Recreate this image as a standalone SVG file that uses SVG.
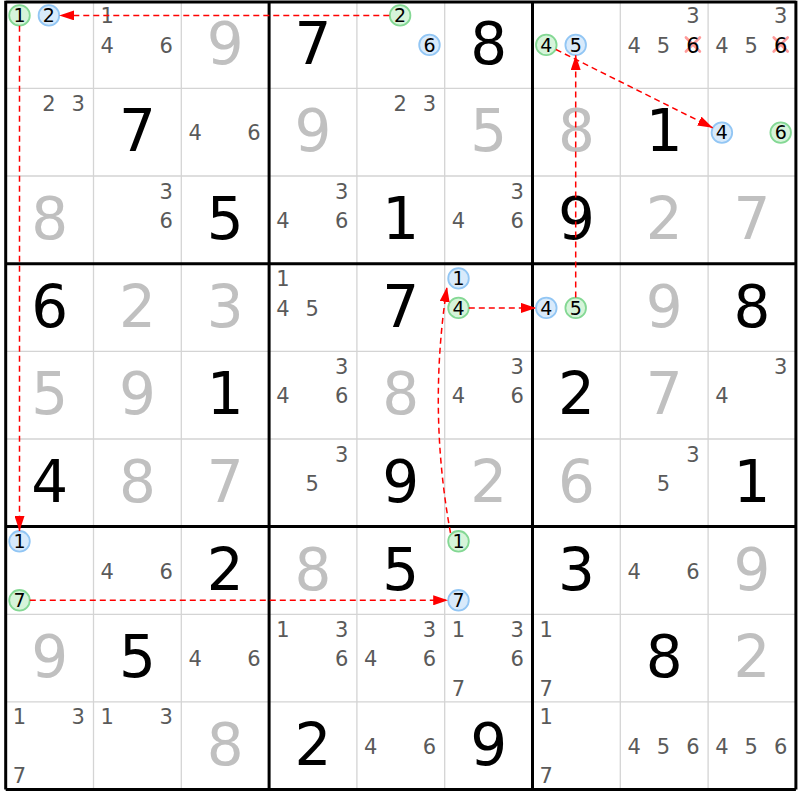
<svg xmlns="http://www.w3.org/2000/svg" width="800" height="800" viewBox="0 0 800 800">
<style>
text{font-family:"DejaVu Sans","Liberation Sans",sans-serif;text-anchor:middle}
.g{font-size:58px;fill:#000}
.s{font-size:58px;fill:#c0c0c0}
.c{font-size:21px;fill:#5a5a5a}
.k{font-size:21px;fill:#000}
.cd{font-size:19px;fill:#000}
.gc{fill:#d6f4da;stroke:#84d894;stroke-width:1.8}
.bc{fill:#d8eafb;stroke:#92c6f4;stroke-width:1.8}
.thin{stroke:#d4d4d4;stroke-width:1.3}
.thick{stroke:#000;stroke-width:3}
.x{stroke:#ff9a9a;stroke-width:2.6;stroke-linecap:round}
.ar{fill:none;stroke:#f00;stroke-width:1.5;stroke-dasharray:6,4;marker-end:url(#ah)}
</style>
<defs>
<marker id="ah" markerUnits="userSpaceOnUse" markerWidth="15" markerHeight="10" refX="15" refY="5" orient="auto">
<path d="M0,0 L15,5 L0,10 z" fill="#f00"/>
</marker>
</defs>
<rect x="0" y="0" width="800" height="800" fill="#fff"/>
<g id="grid">
<path class="thin" d="M93.5,0.7V789.6M181.3,0.7V789.6M356.9,0.7V789.6M444.7,0.7V789.6M620.3,0.7V789.6M708.1,0.7V789.6M5.7,88.4H795.9M5.7,176H795.9M5.7,351.3H795.9M5.7,439H795.9M5.7,614.3H795.9M5.7,701.9H795.9"/>
<path class="thick" d="M5.7,0.7V789.6M269.1,0.7V789.6M532.5,0.7V789.6M795.9,0.7V789.6M5.7,2H795.9M5.7,263.7H795.9M5.7,526.6H795.9M5.7,789.6H795.9"/>
</g>
<g id="r0c0"><circle class="gc" cx="19.5" cy="15.4" r="10.3"/><text class="cd" x="19.5" y="22.2">1</text><circle class="bc" cx="48.9" cy="15.4" r="10.3"/><text class="cd" x="48.9" y="22.2">2</text></g>
<g id="r0c1"><text class="c" x="107.3" y="23.2">1</text><text class="c" x="107.3" y="52.7">4</text><text class="c" x="166.1" y="52.7">6</text></g>
<g id="r0c2"><text class="s" x="225.2" y="63.7">9</text></g>
<g id="r0c3"><text class="g" x="313" y="63.7">7</text></g>
<g id="r0c4"><circle class="gc" cx="400.1" cy="15.4" r="10.3"/><text class="cd" x="400.1" y="22.2">2</text><circle class="bc" cx="429.5" cy="44.9" r="10.3"/><text class="cd" x="429.5" y="51.7">6</text></g>
<g id="r0c5"><text class="g" x="488.6" y="63.7">8</text></g>
<g id="r0c6"><circle class="gc" cx="546.3" cy="44.9" r="10.3"/><text class="cd" x="546.3" y="51.7">4</text><circle class="bc" cx="575.7" cy="44.9" r="10.3"/><text class="cd" x="575.7" y="51.7">5</text></g>
<g id="r0c7"><text class="c" x="692.9" y="23.2">3</text><text class="c" x="634.1" y="52.7">4</text><text class="c" x="663.5" y="52.7">5</text><path class="x" d="M685.9,37.5L699.9,51.5M699.9,37.5L685.9,51.5"/><text class="k" x="692.9" y="52.7">6</text></g>
<g id="r0c8"><text class="c" x="780.7" y="23.2">3</text><text class="c" x="721.9" y="52.7">4</text><text class="c" x="751.3" y="52.7">5</text><path class="x" d="M773.7,37.5L787.7,51.5M787.7,37.5L773.7,51.5"/><text class="k" x="780.7" y="52.7">6</text></g>
<g id="r1c0"><text class="c" x="48.9" y="110.9">2</text><text class="c" x="78.3" y="110.9">3</text></g>
<g id="r1c1"><text class="g" x="137.4" y="151.4">7</text></g>
<g id="r1c2"><text class="c" x="195.1" y="140.4">4</text><text class="c" x="253.9" y="140.4">6</text></g>
<g id="r1c3"><text class="s" x="313" y="151.4">9</text></g>
<g id="r1c4"><text class="c" x="400.1" y="110.9">2</text><text class="c" x="429.5" y="110.9">3</text></g>
<g id="r1c5"><text class="s" x="488.6" y="151.4">5</text></g>
<g id="r1c6"><text class="s" x="576.4" y="151.4">8</text></g>
<g id="r1c7"><text class="g" x="664.2" y="151.4">1</text></g>
<g id="r1c8"><circle class="bc" cx="721.9" cy="132.6" r="10.3"/><text class="cd" x="721.9" y="139.4">4</text><circle class="gc" cx="780.7" cy="132.6" r="10.3"/><text class="cd" x="780.7" y="139.4">6</text></g>
<g id="r2c0"><text class="s" x="49.6" y="239">8</text></g>
<g id="r2c1"><text class="c" x="166.1" y="198.5">3</text><text class="c" x="166.1" y="228">6</text></g>
<g id="r2c2"><text class="g" x="225.2" y="239">5</text></g>
<g id="r2c3"><text class="c" x="341.7" y="198.5">3</text><text class="c" x="282.9" y="228">4</text><text class="c" x="341.7" y="228">6</text></g>
<g id="r2c4"><text class="g" x="400.8" y="239">1</text></g>
<g id="r2c5"><text class="c" x="517.3" y="198.5">3</text><text class="c" x="458.5" y="228">4</text><text class="c" x="517.3" y="228">6</text></g>
<g id="r2c6"><text class="g" x="576.4" y="239">9</text></g>
<g id="r2c7"><text class="s" x="664.2" y="239">2</text></g>
<g id="r2c8"><text class="s" x="752" y="239">7</text></g>
<g id="r3c0"><text class="g" x="49.6" y="326.7">6</text></g>
<g id="r3c1"><text class="s" x="137.4" y="326.7">2</text></g>
<g id="r3c2"><text class="s" x="225.2" y="326.7">3</text></g>
<g id="r3c3"><text class="c" x="282.9" y="286.2">1</text><text class="c" x="282.9" y="315.7">4</text><text class="c" x="312.3" y="315.7">5</text></g>
<g id="r3c4"><text class="g" x="400.8" y="326.7">7</text></g>
<g id="r3c5"><circle class="bc" cx="458.5" cy="278.4" r="10.3"/><text class="cd" x="458.5" y="285.2">1</text><circle class="gc" cx="458.5" cy="307.9" r="10.3"/><text class="cd" x="458.5" y="314.7">4</text></g>
<g id="r3c6"><circle class="bc" cx="546.3" cy="307.9" r="10.3"/><text class="cd" x="546.3" y="314.7">4</text><circle class="gc" cx="575.7" cy="307.9" r="10.3"/><text class="cd" x="575.7" y="314.7">5</text></g>
<g id="r3c7"><text class="s" x="664.2" y="326.7">9</text></g>
<g id="r3c8"><text class="g" x="752" y="326.7">8</text></g>
<g id="r4c0"><text class="s" x="49.6" y="414.3">5</text></g>
<g id="r4c1"><text class="s" x="137.4" y="414.3">9</text></g>
<g id="r4c2"><text class="g" x="225.2" y="414.3">1</text></g>
<g id="r4c3"><text class="c" x="341.7" y="373.8">3</text><text class="c" x="282.9" y="403.3">4</text><text class="c" x="341.7" y="403.3">6</text></g>
<g id="r4c4"><text class="s" x="400.8" y="414.3">8</text></g>
<g id="r4c5"><text class="c" x="517.3" y="373.8">3</text><text class="c" x="458.5" y="403.3">4</text><text class="c" x="517.3" y="403.3">6</text></g>
<g id="r4c6"><text class="g" x="576.4" y="414.3">2</text></g>
<g id="r4c7"><text class="s" x="664.2" y="414.3">7</text></g>
<g id="r4c8"><text class="c" x="780.7" y="373.8">3</text><text class="c" x="721.9" y="403.3">4</text></g>
<g id="r5c0"><text class="g" x="49.6" y="502">4</text></g>
<g id="r5c1"><text class="s" x="137.4" y="502">8</text></g>
<g id="r5c2"><text class="s" x="225.2" y="502">7</text></g>
<g id="r5c3"><text class="c" x="341.7" y="461.5">3</text><text class="c" x="312.3" y="491">5</text></g>
<g id="r5c4"><text class="g" x="400.8" y="502">9</text></g>
<g id="r5c5"><text class="s" x="488.6" y="502">2</text></g>
<g id="r5c6"><text class="s" x="576.4" y="502">6</text></g>
<g id="r5c7"><text class="c" x="692.9" y="461.5">3</text><text class="c" x="663.5" y="491">5</text></g>
<g id="r5c8"><text class="g" x="752" y="502">1</text></g>
<g id="r6c0"><circle class="bc" cx="19.5" cy="541.3" r="10.3"/><text class="cd" x="19.5" y="548.1">1</text><circle class="gc" cx="19.5" cy="600.3" r="10.3"/><text class="cd" x="19.5" y="607.1">7</text></g>
<g id="r6c1"><text class="c" x="107.3" y="578.6">4</text><text class="c" x="166.1" y="578.6">6</text></g>
<g id="r6c2"><text class="g" x="225.2" y="589.6">2</text></g>
<g id="r6c3"><text class="s" x="313" y="589.6">8</text></g>
<g id="r6c4"><text class="g" x="400.8" y="589.6">5</text></g>
<g id="r6c5"><circle class="gc" cx="458.5" cy="541.3" r="10.3"/><text class="cd" x="458.5" y="548.1">1</text><circle class="bc" cx="458.5" cy="600.3" r="10.3"/><text class="cd" x="458.5" y="607.1">7</text></g>
<g id="r6c6"><text class="g" x="576.4" y="589.6">3</text></g>
<g id="r6c7"><text class="c" x="634.1" y="578.6">4</text><text class="c" x="692.9" y="578.6">6</text></g>
<g id="r6c8"><text class="s" x="752" y="589.6">9</text></g>
<g id="r7c0"><text class="s" x="49.6" y="677.3">9</text></g>
<g id="r7c1"><text class="g" x="137.4" y="677.3">5</text></g>
<g id="r7c2"><text class="c" x="195.1" y="666.3">4</text><text class="c" x="253.9" y="666.3">6</text></g>
<g id="r7c3"><text class="c" x="282.9" y="636.8">1</text><text class="c" x="341.7" y="636.8">3</text><text class="c" x="341.7" y="666.3">6</text></g>
<g id="r7c4"><text class="c" x="429.5" y="636.8">3</text><text class="c" x="370.7" y="666.3">4</text><text class="c" x="429.5" y="666.3">6</text></g>
<g id="r7c5"><text class="c" x="458.5" y="636.8">1</text><text class="c" x="517.3" y="636.8">3</text><text class="c" x="517.3" y="666.3">6</text><text class="c" x="458.5" y="695.8">7</text></g>
<g id="r7c6"><text class="c" x="546.3" y="636.8">1</text><text class="c" x="546.3" y="695.8">7</text></g>
<g id="r7c7"><text class="g" x="664.2" y="677.3">8</text></g>
<g id="r7c8"><text class="s" x="752" y="677.3">2</text></g>
<g id="r8c0"><text class="c" x="19.5" y="724.4">1</text><text class="c" x="78.3" y="724.4">3</text><text class="c" x="19.5" y="783.4">7</text></g>
<g id="r8c1"><text class="c" x="107.3" y="724.4">1</text><text class="c" x="166.1" y="724.4">3</text></g>
<g id="r8c2"><text class="s" x="225.2" y="764.9">8</text></g>
<g id="r8c3"><text class="g" x="313" y="764.9">2</text></g>
<g id="r8c4"><text class="c" x="370.7" y="753.9">4</text><text class="c" x="429.5" y="753.9">6</text></g>
<g id="r8c5"><text class="g" x="488.6" y="764.9">9</text></g>
<g id="r8c6"><text class="c" x="546.3" y="724.4">1</text><text class="c" x="546.3" y="783.4">7</text></g>
<g id="r8c7"><text class="c" x="634.1" y="753.9">4</text><text class="c" x="663.5" y="753.9">5</text><text class="c" x="692.9" y="753.9">6</text></g>
<g id="r8c8"><text class="c" x="721.9" y="753.9">4</text><text class="c" x="751.3" y="753.9">5</text><text class="c" x="780.7" y="753.9">6</text></g>
<g id="connectors">
<path class="ar" d="M389.3,15.4H59.2"/>
<path class="ar" d="M19.5,25.7V531"/>
<path class="ar" d="M29.8,600.3H448.2"/>
<path class="ar" d="M450.5,533Q428,410 447,287"/>
<path class="ar" d="M468.8,307.9H536"/>
<path class="ar" d="M575.7,297.6V55.2"/>
<path class="ar" d="M555.9,49.5L712.7,127.8"/>
</g>
</svg>
